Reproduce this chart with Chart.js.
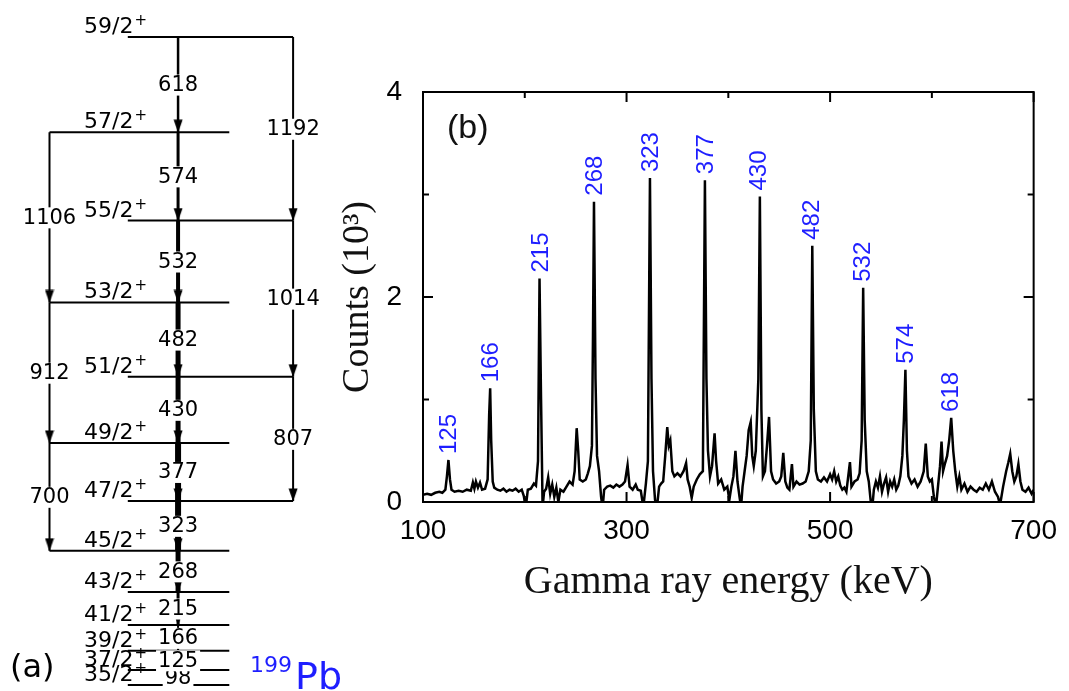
<!DOCTYPE html>
<html lang="en">
<head>
  <meta charset="UTF-8">
  <title>199Pb level scheme and gamma spectrum</title>
  <script src="https://cdn.jsdelivr.net/npm/chart.js"></script>
  <style>
    html, body { margin: 0; padding: 0; background: #fff; }
    body { width: 1069px; height: 691px; position: relative; overflow: hidden; }
    .panel { position: absolute; top: 0; height: 691px; }
    #schemeBox { left: 0; width: 360px; }
    #spectrumBox { left: 330px; width: 739px; }
  </style>
</head>
<body>
  <div id="schemeBox" class="panel"><canvas id="scheme"></canvas></div>
  <div id="spectrumBox" class="panel"><canvas id="spectrum"></canvas></div>

  <script>
    // ---- (a) level scheme of 199Pb ----
    const levelSpins = ['35/2', '37/2', '39/2', '41/2', '43/2', '45/2', '47/2', '49/2', '51/2', '53/2', '55/2', '57/2', '59/2'];
    const levelEnergies = [0, 98, 223, 389, 604, 872, 1195, 1572, 2002, 2484, 3016, 3590, 4208];
    const cascadeGammas = [98, 125, 166, 215, 268, 323, 377, 430, 482, 532, 574, 618];
    const crossoverGammas = [700, 807, 912, 1014, 1106, 1192];

    // ---- (b) coincidence spectrum, counts in units of 10^3 ----
    const spectrumEnergy = [
      100, 104, 108, 112, 116, 119, 122, 123.5, 125, 126.5,
      128, 131, 135, 139, 143, 147, 149, 150.5, 152, 154,
      156, 158, 161, 163.5, 165, 166, 167, 168.5, 170, 173,
      176, 179, 182, 185, 188, 191, 194, 197, 199, 201,
      203, 206, 209, 211, 213, 214.5, 216, 217.5, 219, 221,
      223, 225, 227, 229, 231, 233, 235, 238, 241, 244,
      247, 249, 251, 252.5, 254, 257, 260, 262, 264, 266,
      267, 268, 269.5, 271, 273, 275, 276.5, 278, 281, 284,
      287, 290, 293, 296, 298.5, 301, 303, 306, 309, 311,
      314, 316.5, 319, 321, 323, 324.5, 326, 328, 330, 332,
      334, 336, 338, 340, 341.5, 343, 345, 347, 350, 353,
      356, 358.5, 360, 362, 364, 366, 369, 372, 375, 377,
      378.5, 380, 382, 384, 386.5, 388, 390, 393, 396, 399,
      401, 403, 405, 407, 409, 411, 412.5, 414, 416, 418,
      420, 422, 423.5, 425, 427, 429.5, 431, 432.5, 434, 436,
      438, 440, 442, 444, 447, 450, 452, 454, 456, 458,
      460, 462.5, 464, 467, 470, 473, 476, 479, 481, 482.5,
      484, 486, 488, 491, 494, 497, 500, 502, 504, 506,
      508, 510, 512, 514, 516, 519.5, 521, 524, 527, 529,
      531, 532.5, 534, 536, 538, 540, 541.5, 543, 545, 547,
      549, 551, 553, 555, 557, 559, 561, 563, 565, 567,
      569, 571, 572.5, 574, 575.5, 577, 580, 583, 586, 589,
      592, 594, 596, 598, 600, 602, 604, 606, 608, 609.5,
      611, 613, 615, 617, 619, 621, 623, 625, 627, 629,
      632, 635, 638, 641, 644, 647, 650, 653, 656, 659,
      662, 665, 667, 670, 673, 675, 677, 679, 681, 683,
      685, 687, 689, 692, 695, 698, 700
    ];
    const spectrumCounts = [
      0.07, 0.08, 0.07, 0.09, 0.10, 0.09, 0.12, 0.25, 0.41, 0.22,
      0.12, 0.10, 0.11, 0.10, 0.12, 0.11, 0.19, 0.13, 0.20, 0.14,
      0.19, 0.12, 0.13, 0.22, 0.85, 1.11, 0.60, 0.20, 0.14, 0.12,
      0.11, 0.13, 0.10, 0.12, 0.11, 0.13, 0.10, 0.12, 0.06, -0.05,
      0.12, 0.13, 0.18, 0.16, 0.40, 2.18, 1.00, -0.05, 0.10, 0.13,
      0.24, 0.08, 0.17, 0.05, 0.14, 0.00, 0.12, 0.10, 0.15, 0.20,
      0.17, 0.30, 0.72, 0.50, 0.22, 0.20, 0.22, 0.28, 0.35, 0.55,
      1.60, 2.93, 1.20, 0.45, 0.30, 0.05, -0.06, 0.12, 0.15, 0.16,
      0.14, 0.17, 0.15, 0.17, 0.20, 0.36, 0.15, 0.12, 0.17, 0.12,
      0.11, -0.05, 0.18, 0.40, 3.16, 1.20, 0.30, 0.02, -0.04, 0.15,
      0.18, 0.20, 0.45, 0.73, 0.55, 0.60, 0.30, 0.25, 0.28, 0.25,
      0.30, 0.38, 0.22, 0.15, 0.04, 0.15, 0.22, 0.27, 0.30, 3.14,
      1.20, 0.50, 0.25, 0.35, 0.67, 0.40, 0.18, 0.22, 0.12, 0.15,
      0.02, 0.15, 0.25, 0.50, 0.20, 0.05, -0.05, 0.15, 0.30, 0.45,
      0.70, 0.78, 0.45, 0.35, 0.50, 1.20, 2.98, 0.90, 0.25, 0.30,
      0.55, 0.83, 0.30, 0.22, 0.18, 0.20, 0.25, 0.48, 0.20, 0.14,
      0.12, 0.37, 0.15, 0.20, 0.17, 0.18, 0.20, 0.30, 0.60, 2.50,
      0.90, 0.30, 0.22, 0.20, 0.24, 0.20, 0.27, 0.22, 0.30, 0.20,
      0.25, 0.16, 0.12, 0.14, 0.10, 0.39, 0.15, 0.20, 0.22, 0.28,
      0.60, 2.09, 0.80, 0.30, 0.20, 0.00, -0.05, 0.12, 0.20, 0.14,
      0.25, 0.10, 0.18, 0.24, 0.10, 0.20, 0.15, 0.22, 0.12, 0.16,
      0.25, 0.45, 0.80, 1.29, 0.50, 0.25, 0.18, 0.22, 0.15, 0.20,
      0.30, 0.57, 0.25, 0.20, 0.22, 0.05, -0.05, 0.15, 0.35, 0.59,
      0.30, 0.38, 0.45, 0.60, 0.82, 0.50, 0.30, 0.15, 0.25, 0.12,
      0.18, 0.10, 0.15, 0.12, 0.10, 0.14, 0.12, 0.18, 0.12, 0.20,
      0.10, 0.05, -0.03, 0.15, 0.30, 0.38, 0.47, 0.30, 0.20, 0.25,
      0.37, 0.20, 0.12, 0.10, 0.14, 0.08, 0.12
    ];
    const peakLabels = [125, 166, 215, 268, 323, 377, 430, 482, 532, 574, 618];
    const xMajorTicks = [100, 300, 500, 700];
    const xMinorTicks = [200, 400, 600];
    const yMajorTicks = [0, 2, 4];
    const yMinorTicks = [1, 3];

    // ---- layout / style of the level scheme ----
    const COL_MAIN = 178, COL_LEFT = 45, COL_RIGHT = 297;
    const cascadeWidths = [1.5, 1.5, 2, 3, 5, 6, 6, 5, 5, 4, 3, 2.5];
    const BLUE = '#1e1eff';

    function levelSpan(i) {
      if (i < 5) return [126, 231];
      return i % 2 ? [45, 231] : [126, 297];
    }

    // pair each crossover with the two levels it links
    const crossovers = crossoverGammas.map(g => {
      for (let f = 0; f < levelEnergies.length; f++)
        for (let t = 0; t < f; t++)
          if (levelEnergies[f] - levelEnergies[t] === g) return { g, f, t, col: f % 2 ? COL_LEFT : COL_RIGHT };
    });

    // arrow head with its tip at the centre of the image
    const arrowHead = document.createElement('canvas');
    arrowHead.width = 10; arrowHead.height = 26;
    (function () {
      const c = arrowHead.getContext('2d');
      c.fillStyle = '#000';
      c.beginPath(); c.moveTo(0.5, 0.5); c.lineTo(9.5, 0.5); c.lineTo(5, 13.5); c.closePath(); c.fill();
    })();

    function seg(points, width) {
      return { data: points, showLine: true, borderColor: '#000', borderWidth: width, pointRadius: 0, clip: false };
    }

    const schemeSets = [];
    levelEnergies.forEach((e, i) => {
      const [a, b] = levelSpan(i);
      schemeSets.push(seg([{ x: a, y: e }, { x: b, y: e }], 2));
    });
    cascadeGammas.forEach((g, i) => {
      schemeSets.push(seg([{ x: COL_MAIN, y: levelEnergies[i + 1] }, { x: COL_MAIN, y: levelEnergies[i] }], cascadeWidths[i]));
    });
    crossovers.forEach(c => {
      schemeSets.push(seg([{ x: c.col, y: levelEnergies[c.f] }, { x: c.col, y: levelEnergies[c.t] }], 2));
    });
    const arrowPoints = cascadeGammas.map((g, i) => ({ x: COL_MAIN, y: levelEnergies[i] }))
      .concat(crossovers.map(c => ({ x: c.col, y: levelEnergies[c.t] })));
    schemeSets.push({ data: arrowPoints, showLine: false, pointStyle: arrowHead, pointRadius: 5, clip: false });

    const schemeText = {
      id: 'schemeText',
      afterDatasetsDraw(chart) {
        const { ctx, scales: { x, y } } = chart;
        ctx.save();
        const tag = (txt, cx, cy) => {
          ctx.font = '21px "DejaVu Sans"';
          const w = ctx.measureText(txt).width;
          ctx.fillStyle = '#fff';
          ctx.fillRect(cx - w / 2 - 2, cy - 10, w + 4, 21);
          ctx.fillStyle = '#000';
          ctx.textAlign = 'center';
          ctx.textBaseline = 'middle';
          ctx.fillText(txt, cx, cy + 1);
        };
        cascadeGammas.forEach((g, i) => {
          tag(String(g), x.getPixelForValue(COL_MAIN), y.getPixelForValue((levelEnergies[i] + levelEnergies[i + 1]) / 2));
        });
        crossovers.forEach(c => {
          tag(String(c.g), x.getPixelForValue(c.col), y.getPixelForValue((levelEnergies[c.f] + levelEnergies[c.t]) / 2));
        });

        // spin / parity labels
        ctx.textAlign = 'left';
        ctx.textBaseline = 'alphabetic';
        ctx.fillStyle = '#000';
        levelSpins.forEach((s, i) => {
          const base = y.getPixelForValue(levelEnergies[i]) - 4;
          ctx.font = '22px "DejaVu Sans"';
          ctx.fillText(s, 84, base);
          const w = ctx.measureText(s).width;
          ctx.font = '15px "DejaVu Sans"';
          ctx.fillText('+', 84 + w + 1, base - 8);
        });

        ctx.font = '32px "DejaVu Sans"';
        ctx.fillText('(a)', 10, 677);
        ctx.fillStyle = BLUE;
        ctx.font = '22px "DejaVu Sans"';
        ctx.fillText('199', 250, 672);
        ctx.font = '38px "DejaVu Sans"';
        ctx.fillText('Pb', 295, 689);
        ctx.restore();
      }
    };

    new Chart(document.getElementById('scheme'), {
      type: 'scatter',
      data: { datasets: schemeSets },
      options: {
        responsive: true,
        maintainAspectRatio: false,
        animation: false,
        layout: { padding: { top: 37, bottom: 1, left: 0, right: 0 } },
        plugins: { legend: { display: false }, tooltip: { enabled: false } },
        scales: {
          x: { type: 'linear', min: 0, max: 360, display: false },
          y: { type: 'linear', min: 0, max: 4208, display: false }
        }
      },
      plugins: [schemeText]
    });

    // ---- spectrum frame with inward ticks on all four sides ----
    const frame = {
      id: 'frame',
      afterDatasetsDraw(chart) {
        const { ctx, chartArea: a, scales: { x, y } } = chart;
        ctx.save();
        ctx.strokeStyle = '#000';
        ctx.lineWidth = 2;
        ctx.strokeRect(a.left, a.top, a.right - a.left, a.bottom - a.top);
        const line = (x1, y1, x2, y2) => { ctx.beginPath(); ctx.moveTo(x1, y1); ctx.lineTo(x2, y2); ctx.stroke(); };
        const xt = (vals, len) => vals.forEach(v => {
          const p = x.getPixelForValue(v);
          line(p, a.bottom, p, a.bottom - len);
          line(p, a.top, p, a.top + len);
        });
        const yt = (vals, len) => vals.forEach(v => {
          const p = y.getPixelForValue(v);
          line(a.left, p, a.left + len, p);
          line(a.right, p, a.right - len, p);
        });
        xt(xMajorTicks, 10); xt(xMinorTicks, 6);
        yt(yMajorTicks, 10); yt(yMinorTicks, 6);
        ctx.restore();
      }
    };

    const peakTags = {
      id: 'peakTags',
      afterDatasetsDraw(chart) {
        const { ctx, chartArea: a, scales: { x, y } } = chart;
        ctx.save();
        ctx.fillStyle = BLUE;
        ctx.font = '24px "Liberation Sans"';
        ctx.textAlign = 'left';
        ctx.textBaseline = 'middle';
        peakLabels.forEach(p => {
          let top = 0;
          spectrumEnergy.forEach((e, i) => { if (Math.abs(e - p) <= 3) top = Math.max(top, spectrumCounts[i]); });
          ctx.save();
          ctx.translate(x.getPixelForValue(p) + 1, y.getPixelForValue(top) - 6);
          ctx.rotate(-Math.PI / 2);
          ctx.fillText(String(p), 0, 0);
          ctx.restore();
        });
        ctx.fillStyle = '#111';
        ctx.font = '34px "Liberation Sans"';
        ctx.fillText('(b)', a.left + 24, a.top + 37);
        ctx.restore();
      }
    };

    new Chart(document.getElementById('spectrum'), {
      type: 'scatter',
      data: {
        datasets: [{
          data: spectrumEnergy.map((e, i) => ({ x: e, y: spectrumCounts[i] })),
          showLine: true,
          borderColor: '#000',
          borderWidth: 2.5,
          pointRadius: 0,
          tension: 0
        }]
      },
      options: {
        responsive: true,
        maintainAspectRatio: false,
        animation: false,
        layout: { padding: { top: 92, right: 34, bottom: 69, left: 0 } },
        plugins: { legend: { display: false }, tooltip: { enabled: false } },
        scales: {
          x: {
            type: 'linear', min: 100, max: 700,
            grid: { display: false, drawTicks: false },
            border: { display: false },
            ticks: { stepSize: 200, padding: 12, maxRotation: 0, color: '#000', font: { family: 'Liberation Sans', size: 28 } },
            title: { display: true, text: 'Gamma ray energy (keV)', color: '#111', font: { family: 'Liberation Serif', size: 40 }, padding: { top: 0, bottom: 16 } },
            afterFit(s) { s.height = 120; }
          },
          y: {
            type: 'linear', min: 0, max: 4,
            grid: { display: false, drawTicks: false },
            border: { display: false },
            ticks: { stepSize: 2, padding: 21, color: '#000', font: { family: 'Liberation Sans', size: 28 } },
            title: { display: true, text: 'Counts (10³)', color: '#111', font: { family: 'Liberation Serif', size: 38 }, padding: { top: 5, bottom: 0 } },
            afterFit(s) { s.width = 93; }
          }
        }
      },
      plugins: [frame, peakTags]
    });
  </script>
</body>
</html>
